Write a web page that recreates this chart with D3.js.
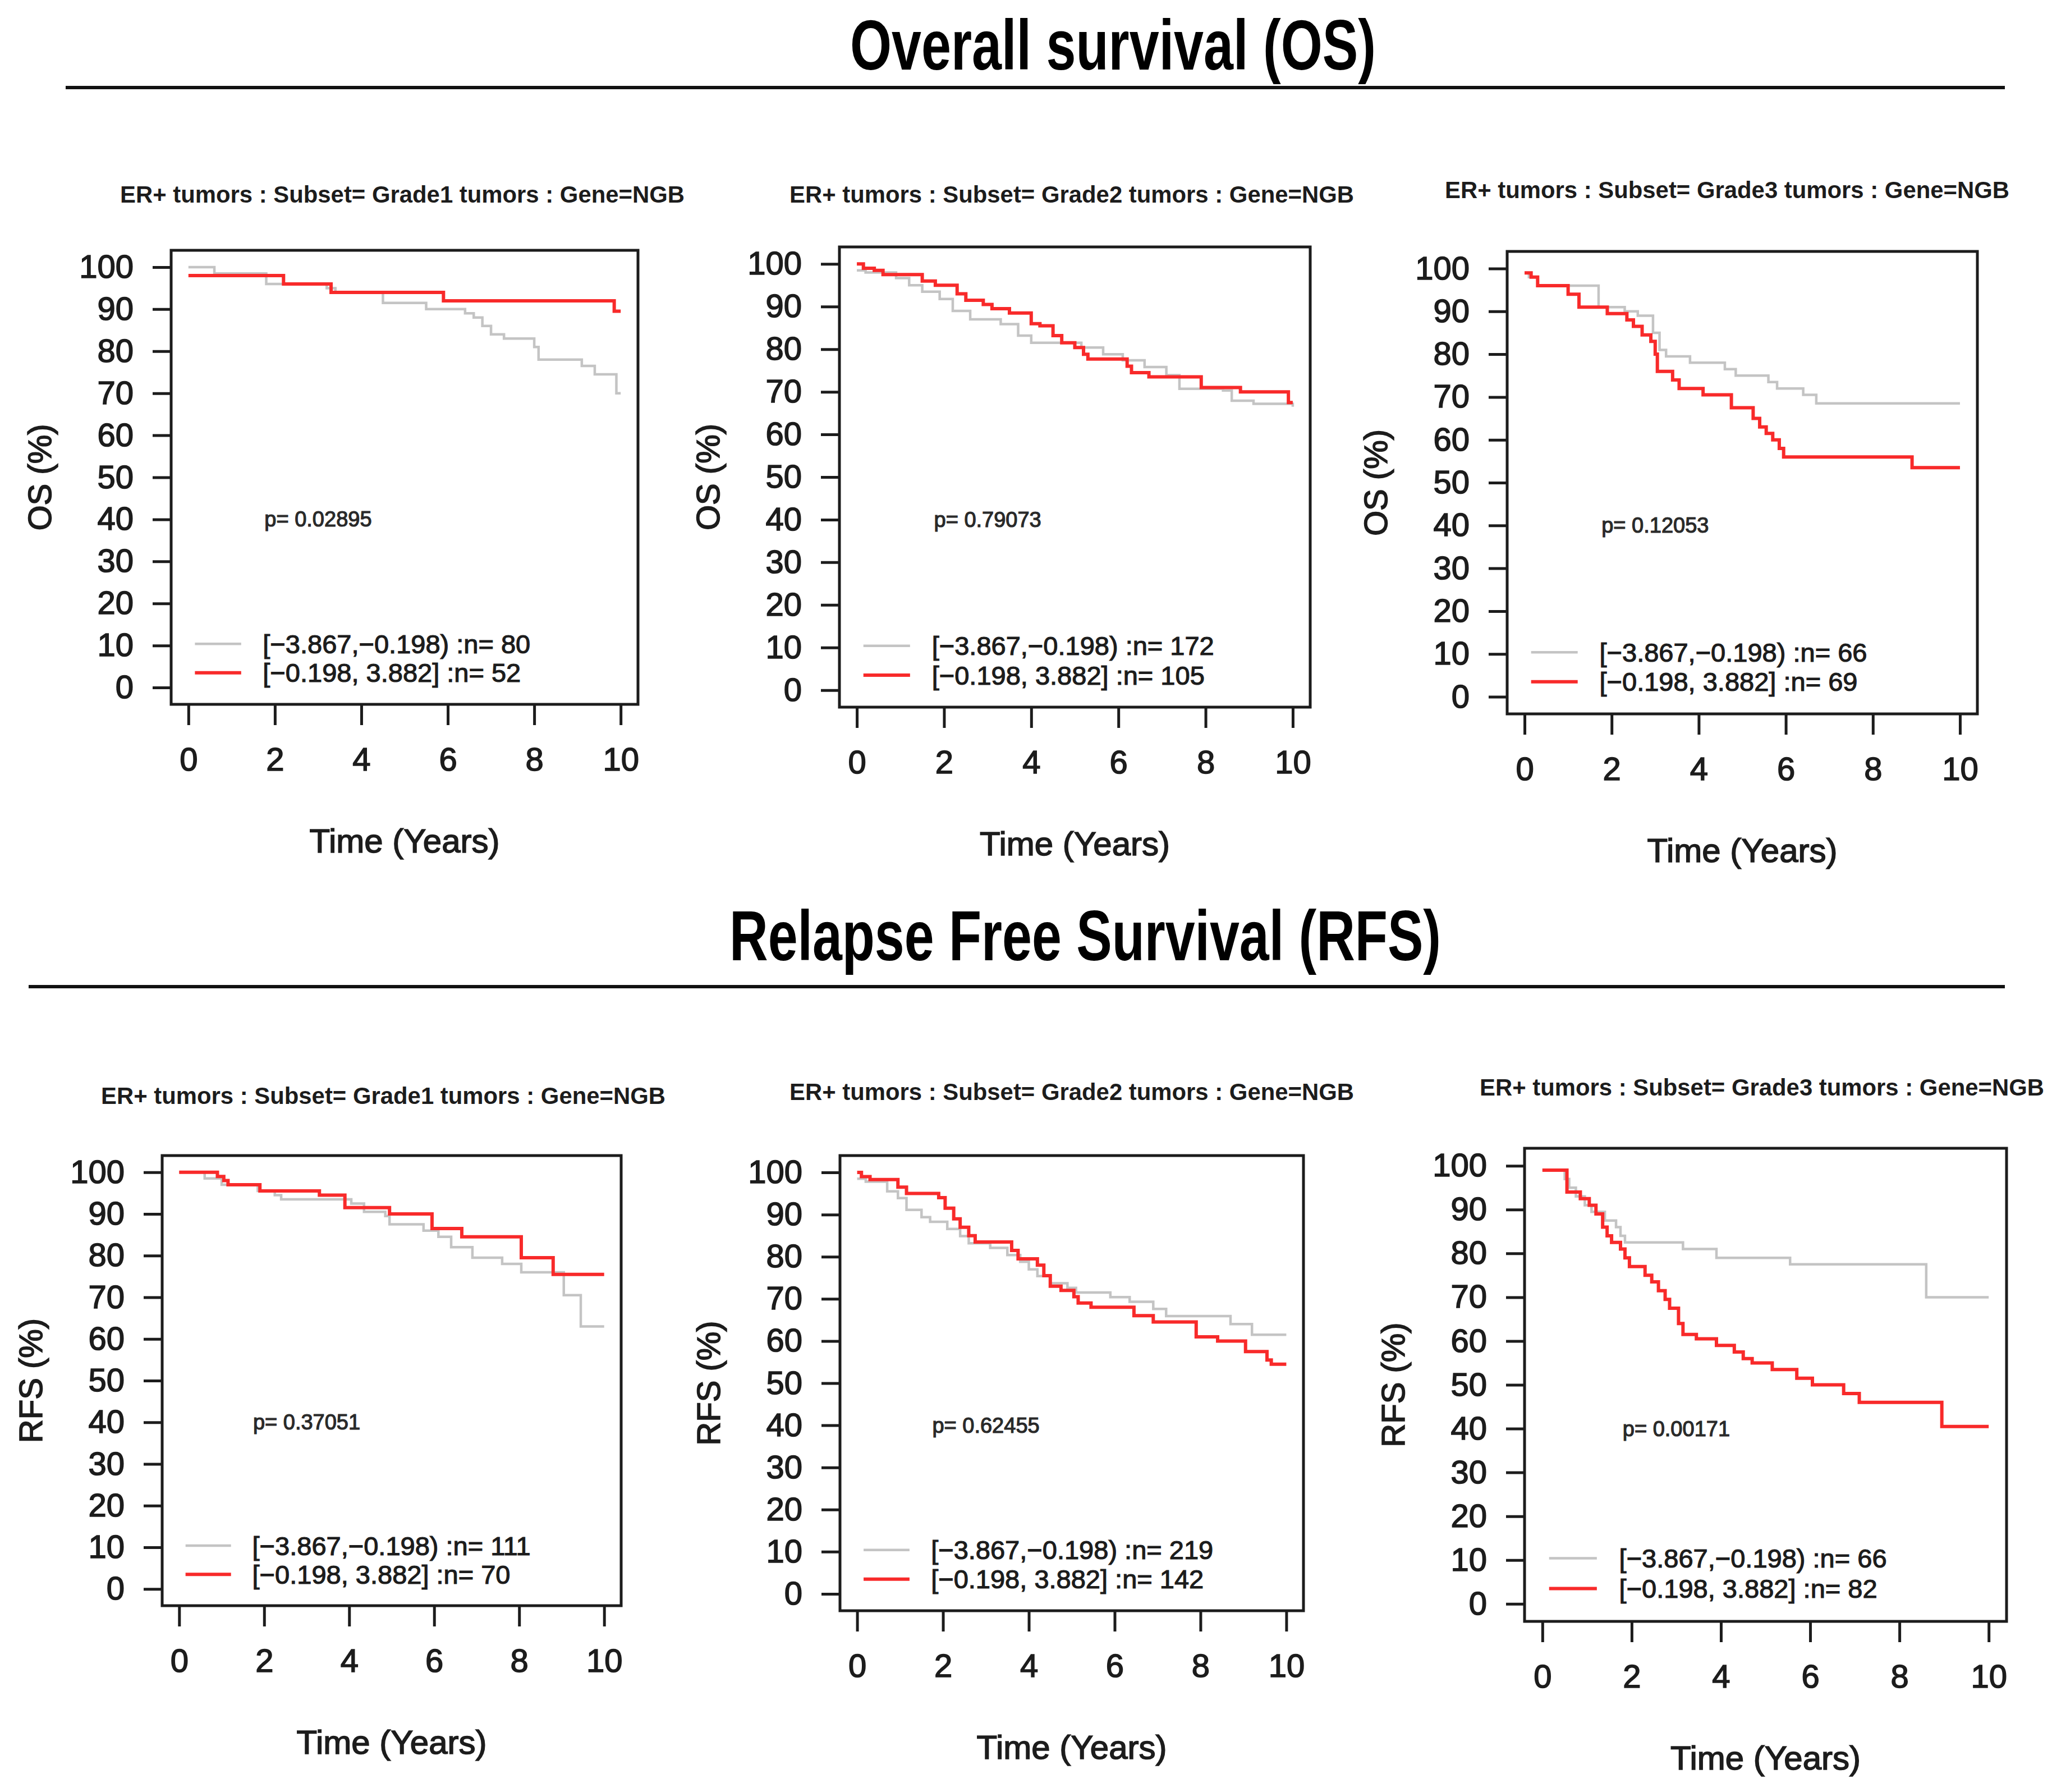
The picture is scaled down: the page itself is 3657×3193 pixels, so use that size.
<!DOCTYPE html>
<html>
<head>
<meta charset="utf-8">
<script src="https://cdn.jsdelivr.net/npm/d3@7"></script>
<style>
  body { margin: 0; background: #fff; }
  text { font-family: "Liberation Sans", Arial, sans-serif; fill: #1c1c1c; }
</style>
</head>
<body>
<div id="chart"></div>
<script>
// ---- data ----
const xTicks = [0, 2, 4, 6, 8, 10];
const yTicks = [0, 10, 20, 30, 40, 50, 60, 70, 80, 90, 100];

const sectionTitles = ["Overall survival (OS)", "Relapse Free Survival (RFS)"];

const panelTitles = [
  "ER+ tumors : Subset= Grade1 tumors : Gene=NGB",
  "ER+ tumors : Subset= Grade2 tumors : Gene=NGB",
  "ER+ tumors : Subset= Grade3 tumors : Gene=NGB",
  "ER+ tumors : Subset= Grade1 tumors : Gene=NGB",
  "ER+ tumors : Subset= Grade2 tumors : Gene=NGB",
  "ER+ tumors : Subset= Grade3 tumors : Gene=NGB"
];
const yLabels = ["OS (%)", "OS (%)", "OS (%)", "RFS (%)", "RFS (%)", "RFS (%)"];
const xLabel = "Time (Years)";
const pValues = ["p= 0.02895", "p= 0.79073", "p= 0.12053", "p= 0.37051", "p= 0.62455", "p= 0.00171"];

const lowGroup = "[\u22123.867,\u22120.198) :n= ";
const highGroup = "[\u22120.198, 3.882] :n= ";
const nLow = [80, 172, 66, 111, 219, 66];
const nHigh = [52, 105, 69, 70, 142, 82];

// survival steps: [time (years), survival (%)]
const osG1Low = [[0,100],[0.6,98.5],[1.8,96],[3.2,95],[3.4,94],[4.5,91.5],[5.5,90],[6.4,89],[6.6,88],[6.8,86],[7.0,84],[7.3,83],[8.0,81],[8.1,78],[9.1,76.5],[9.4,74.5],[9.9,70],[10,70]];
const osG1High = [[0,98],[2.2,96],[3.3,94],[5.9,92],[9.85,89.5],[10,89.5]];

const osG2Low = [[0,98.5],[0.2,98],[0.9,96.7],[1.2,95],[1.5,93.5],[1.9,91.8],[2.2,89],[2.6,87],[3.3,85.9],[3.7,83.2],[4.0,81.5],[4.7,81.5],[5.15,80.4],[5.65,78.8],[6.1,77.4],[6.6,75.8],[7.1,73.9],[7.4,70.7],[8.4,70.3],[8.6,67.9],[9.1,67.2],[10,66.5]];
const osG2High = [[0,100],[0.15,99],[0.4,98.5],[0.6,97.5],[1.5,96],[1.8,95],[2.3,93],[2.5,91.5],[2.9,90.5],[3.1,89.5],[3.5,88.5],[4.0,86],[4.2,85.5],[4.5,83.2],[4.7,81.5],[5.0,80.4],[5.2,78.8],[5.3,77.7],[6.2,76],[6.3,74.5],[6.7,73.5],[7.9,71],[8.8,70],[9.9,67.5],[10,67.5]];

const osG3Low = [[0,99],[0.1,98],[0.3,96],[1.7,91],[2.3,90],[2.6,89],[2.95,85],[3.1,81],[3.25,79.5],[3.8,78],[4.6,76.5],[4.85,75],[5.6,73.5],[5.8,72],[6.4,70.5],[6.7,68.5],[10,68.5]];
const osG3High = [[0,99],[0.15,98],[0.3,96],[1.0,94],[1.25,91],[1.9,89.5],[2.35,88],[2.5,86.5],[2.7,84.5],[2.9,83],[3.0,80],[3.05,76],[3.4,74],[3.55,72],[4.1,70.5],[4.75,67.5],[5.25,65],[5.4,63],[5.55,61.5],[5.7,60],[5.85,58],[5.95,56],[8.9,53.5],[10,53.5]];

const rfsG1Low = [[0,100],[0.6,98.5],[1.0,97],[1.85,95.5],[2.25,94.5],[2.4,93.5],[4.05,92.5],[4.35,90.5],[4.85,89.5],[4.95,87.5],[5.75,86],[6.1,84.5],[6.4,82],[6.9,79.5],[7.6,78],[8.05,76],[9.05,70.5],[9.45,63],[10,63]];
const rfsG1High = [[0,100],[0.9,99],[1.05,98],[1.15,97],[1.9,95.5],[3.3,94.5],[3.9,91.5],[4.95,90],[5.95,86.5],[6.65,84.5],[8.05,79.5],[8.8,75.5],[10,75.5]];

const rfsG2Low = [[0,98.5],[0.2,97.8],[0.7,95.5],[0.95,93.9],[1.15,91.1],[1.5,89.4],[1.7,88.3],[2.1,86.6],[2.4,84.9],[2.6,83.2],[3.1,82.1],[3.5,80.4],[3.8,78.8],[4.0,77],[4.2,75.4],[4.5,73.7],[4.9,72.6],[5.1,71.5],[5.9,70.4],[6.35,69.3],[6.9,67.6],[7.2,65.9],[8.7,64],[9.2,61.5],[10,61.5]];
const rfsG2High = [[0,100],[0.1,99],[0.3,98.3],[0.95,96.5],[1.15,95],[1.9,94],[2.05,91.5],[2.25,89],[2.4,87],[2.6,85],[2.75,83.5],[3.6,81.5],[3.75,79.5],[4.2,78],[4.35,75.5],[4.5,73],[4.75,72],[5.05,70.5],[5.15,69],[5.45,68],[6.45,66],[6.9,64.5],[7.9,61],[8.4,60],[9.05,57.5],[9.55,55.5],[9.65,54.5],[10,54.5]];

const rfsG3Low = [[0,99],[0.5,97],[0.6,95],[0.75,93],[0.95,91],[1.1,89.5],[1.4,87.5],[1.65,86],[1.75,84],[1.85,82.5],[3.15,81],[3.9,79],[5.55,77.5],[8.6,70],[10,70]];
const rfsG3High = [[0,99],[0.55,94],[0.85,92.5],[1.05,91],[1.2,89],[1.35,86],[1.45,84],[1.55,82.5],[1.75,81],[1.85,79],[1.95,77],[2.3,75],[2.45,73.5],[2.6,71.5],[2.75,69.5],[2.85,67.5],[3.05,64],[3.15,61.5],[3.45,60.5],[3.9,59],[4.3,57.5],[4.5,56],[4.7,55],[5.15,53.5],[5.7,51.5],[6.05,50],[6.75,48],[7.1,46],[8.95,40.5],[10,40.5]];

const lowCurves = [osG1Low, osG2Low, osG3Low, rfsG1Low, rfsG2Low, rfsG3Low];
const highCurves = [osG1High, osG2High, osG3High, rfsG1High, rfsG2High, rfsG3High];

// ---- layout ----
const W = 3657, H = 3193;
const grey = "#c4c4c4", red = "#f82a2a", ink = "#1c1c1c";

const sections = [
  { x: 1515, y: 124, len: 937, lineY: 156, x1: 117, x2: 3573 },
  { x: 1300, y: 1711, len: 1268, lineY: 1758, x1: 51, x2: 3573 }
];

const panels = [
  { left: 305,  right: 1137, top: 446,  bottom: 1255, tx: 717,  ty: 346 },
  { left: 1496, right: 2335, top: 440,  bottom: 1260, tx: 1910, ty: 346 },
  { left: 2686, right: 3524, top: 448,  bottom: 1272, tx: 3078, ty: 338 },
  { left: 289,  right: 1107, top: 2059, bottom: 2861, tx: 683,  ty: 1952 },
  { left: 1497, right: 2323, top: 2059, bottom: 2870, tx: 1910, ty: 1945 },
  { left: 2717, right: 3576, top: 2046, bottom: 2889, tx: 3140, ty: 1937 }
];

const svg = d3.select("#chart")
  .append("svg")
  .attr("width", W)
  .attr("height", H)
  .attr("viewBox", `0 0 ${W} ${H}`);

svg.append("rect").attr("width", W).attr("height", H).attr("fill", "#fff");

// heavier strokes on text, the source figure is a blurred raster
const heavy = (sel, w) => sel.style("stroke", ink).style("stroke-width", w).style("paint-order", "stroke");

// section headings
sections.forEach((s, i) => {
  svg.append("text")
    .attr("x", s.x).attr("y", s.y)
    .attr("textLength", s.len)
    .attr("lengthAdjust", "spacingAndGlyphs")
    .style("font-family", "'Liberation Sans Narrow', 'Arial Narrow', 'Liberation Sans', sans-serif")
    .style("font-weight", "bold")
    .style("font-size", "126px")
    .style("fill", "#000")
    .text(sectionTitles[i]);
  svg.append("line")
    .attr("x1", s.x1).attr("x2", s.x2)
    .attr("y1", s.lineY).attr("y2", s.lineY)
    .attr("stroke", "#111").attr("stroke-width", 6);
});

panels.forEach((p, i) => {
  const x = d3.scaleLinear().domain([-0.4, 10.4]).range([p.left, p.right]);
  const y = d3.scaleLinear().domain([-4, 104]).range([p.bottom, p.top]);
  const g = svg.append("g");

  // panel title
  g.append("text")
    .attr("x", p.tx).attr("y", p.ty + 15)
    .attr("text-anchor", "middle")
    .attr("textLength", 1006)
    .attr("lengthAdjust", "spacingAndGlyphs")
    .style("font-weight", "bold")
    .style("font-size", "43px")
    .text(panelTitles[i]);

  // axes
  const xAxis = g.append("g")
    .attr("transform", `translate(0,${p.bottom})`)
    .call(d3.axisBottom(x).tickValues(xTicks).tickSize(37).tickPadding(40));
  const yAxis = g.append("g")
    .attr("transform", `translate(${p.left},0)`)
    .call(d3.axisLeft(y).tickValues(yTicks).tickSize(33).tickPadding(34));

  [xAxis, yAxis].forEach(a => {
    a.select(".domain").remove();
    a.selectAll(".tick line").attr("stroke", ink).attr("stroke-width", 5);
    a.selectAll(".tick text")
      .style("font-family", "'Liberation Sans', Arial, sans-serif")
      .style("font-size", "58px")
      .attr("fill", ink)
      .call(heavy, 1.6);
  });

  // plot box
  g.append("rect")
    .attr("x", p.left).attr("y", p.top)
    .attr("width", p.right - p.left).attr("height", p.bottom - p.top)
    .attr("fill", "none").attr("stroke", ink).attr("stroke-width", 5);

  // axis titles
  g.append("text")
    .attr("x", (p.left + p.right) / 2).attr("y", p.bottom + 243)
    .attr("text-anchor", "middle").attr("dominant-baseline", "central")
    .style("font-size", "60px")
    .call(heavy, 1.6)
    .text(xLabel);
  g.append("text")
    .attr("transform", `translate(${p.left - 235},${y(50)}) rotate(-90)`)
    .attr("text-anchor", "middle").attr("dominant-baseline", "central")
    .style("font-size", "58px")
    .call(heavy, 1.6)
    .text(yLabels[i]);

  // survival curves
  const line = d3.line()
    .x(d => x(d[0]))
    .y(d => y(d[1]))
    .curve(d3.curveStepAfter);
  g.append("path").datum(lowCurves[i])
    .attr("d", line).attr("fill", "none")
    .attr("stroke", grey).attr("stroke-width", 4.5);
  g.append("path").datum(highCurves[i])
    .attr("d", line).attr("fill", "none")
    .attr("stroke", red).attr("stroke-width", 6);

  // p value
  g.append("text")
    .attr("x", x(3)).attr("y", y(40))
    .attr("text-anchor", "middle").attr("dominant-baseline", "central")
    .style("font-size", "38px")
    .style("fill", "#2a2a2a")
    .call(heavy, 1.2)
    .text(pValues[i]);

  // legend
  const legend = [
    { label: lowGroup + nLow[i], color: grey, width: 4.5, at: 10.4 },
    { label: highGroup + nHigh[i], color: red, width: 6, at: 3.5 }
  ];
  legend.forEach(l => {
    g.append("line")
      .attr("x1", x(0.15)).attr("x2", x(1.22))
      .attr("y1", y(l.at)).attr("y2", y(l.at))
      .attr("stroke", l.color).attr("stroke-width", l.width);
    g.append("text")
      .attr("x", x(1.72)).attr("y", y(l.at))
      .attr("dominant-baseline", "central")
      .style("font-size", "47px")
      .call(heavy, 1.2)
      .text(l.label);
  });
});
</script>
</body>
</html>
